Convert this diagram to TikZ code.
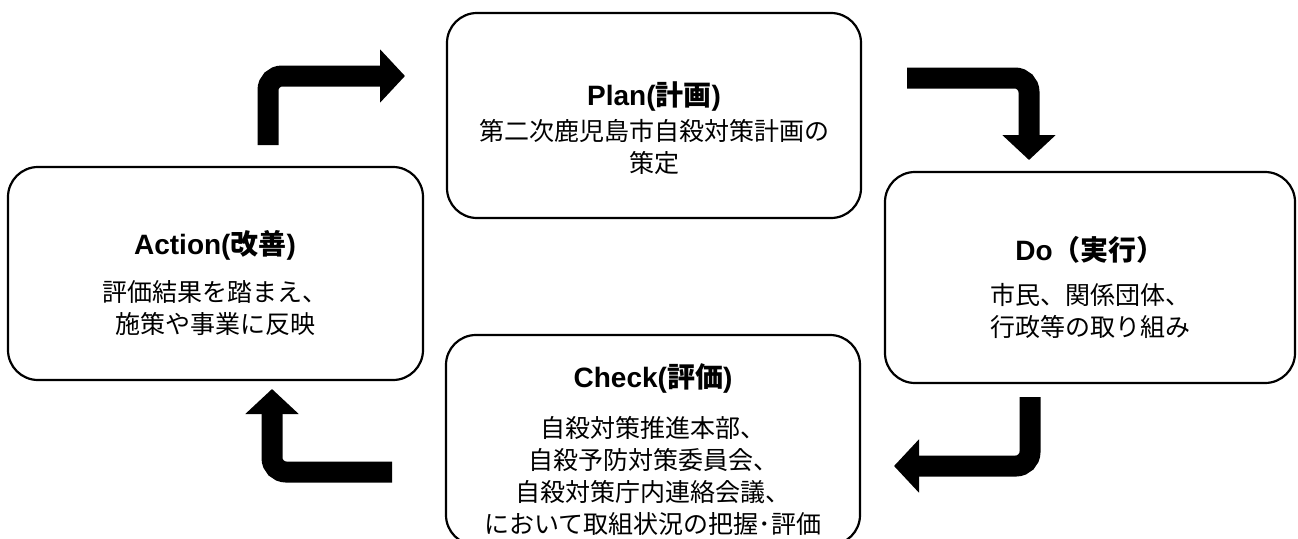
\documentclass[tikz,border=0pt]{standalone}
\usepackage{fontspec}
\newfontfamily\jp{Noto Sans CJK JP}
\newfontfamily\lat{Liberation Sans}
\usetikzlibrary{arrows.meta}
\tikzset{
  box/.style={draw=black, line width=2.2pt, rounded corners=30pt, fill=white},
  ttl/.style={font=\jp\fontsize{28}{32}\selectfont\bfseries, inner sep=0pt},
  bodytxt/.style={font=\jp\fontsize{25}{32}\selectfont, align=center, inner sep=0pt},
  bent/.style={line width=21pt, rounded corners=14pt, -{Triangle[length=25pt,width=52pt]}}
}
\begin{document}
\begin{tikzpicture}[x=1pt,y=-1pt]
\useasboundingbox (0,0) rectangle (1298,538);
\begin{scope}
\clip (0,0) rectangle (1298,538);
\node[box, minimum width=414pt, minimum height=205pt] (plan) at (654,115.5) {};
\node[box, minimum width=415pt, minimum height=213pt] (action) at (215.5,273.5) {};
\node[box, minimum width=410pt, minimum height=211pt] (do) at (1090,277.5) {};
\node[box, minimum width=414pt, minimum height=210pt] (check) at (653,440) {};
\end{scope}
% titles
\node[ttl] (plant) at (654,97) {{\lat Plan(}計画{\lat )}};
\node[ttl] (actiont) at (215,245) {{\lat Action(}改善{\lat )}};
\node[ttl] (dot) at (1090,250) {{\lat Do}（実行）};
\node[ttl] (checkt) at (653,378) {{\lat Check(}評価{\lat )}};
% bodies
\node[bodytxt] (planb) at (654,147) {第二次鹿児島市自殺対策計画の\\策定};
\node[bodytxt] (actionb) at (215,308) {評価結果を踏まえ、\\施策や事業に反映};
\node[bodytxt] (dob) at (1090,311) {市民、関係団体、\\行政等の取り組み};
\node[bodytxt] (checkb) at (653,476) {自殺対策推進本部、\\自殺予防対策委員会、\\自殺対策庁内連絡会議、\\において取組状況の把握･評価};
% arrows
\coordinate (a1s) at (268,145);
\coordinate (a1e) at (405,76);
\coordinate (a2s) at (907,78);
\coordinate (a2e) at (1029,160);
\coordinate (a3s) at (1030,397);
\coordinate (a3e) at (894,466);
\coordinate (a4s) at (392,472);
\coordinate (a4e) at (272,389);
\draw[bent] (a1s) |- (a1e);
\draw[bent] (a2s) -| (a2e);
\draw[bent] (a3s) |- (a3e);
\draw[bent] (a4s) -| (a4e);
\end{tikzpicture}
\end{document}
